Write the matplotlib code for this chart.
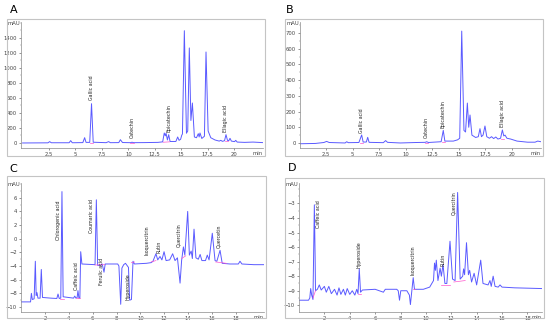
import matplotlib
matplotlib.use("Agg")
import matplotlib.pyplot as plt
from matplotlib.patches import Rectangle
from matplotlib.ticker import AutoMinorLocator

# ==========================================
# Chromatogram data (time in min, signal in mAU)
# ==========================================

a_time = [0.0, 2.4, 2.56, 2.72, 4.4, 4.55, 4.7, 5.7, 5.87, 6.0, 6.35, 6.52, 6.68,
          7.9, 8.14, 8.3, 9.1, 9.25, 9.45, 10.2, 10.35, 10.5, 11.5, 12.8, 13.25,
          13.4, 13.5, 13.57, 13.7, 13.82, 13.95, 14.5, 14.67, 14.8, 14.95, 15.05,
          15.12, 15.3, 15.5, 15.62, 15.77, 15.92, 16.06, 16.25, 16.45, 16.62, 16.7,
          16.78, 16.95, 17.2, 17.35, 17.55, 17.8, 18.2, 18.6, 18.75, 18.9, 19.1,
          19.24, 19.38, 19.5, 19.62, 19.75, 20.05, 20.16, 20.3, 21.0, 21.8, 22.7]
a_signal = [0, 2, 18, 3, 3, 31, 3, 5, 71, 8, 8, 524, 10,
            4, 18, 4, 5, 44, 6, 4, 10, 4, 5, 8, 15,
            133, 95, 130, 40, 111, 20, 20, 80, 35, 50, 102,
            120, 1497, 130, 160, 1267, 300, 533, 80, 70, 124, 80,
            133, 60, 90, 1213, 160, 70, 40, 25, 35, 22, 30,
            111, 35, 30, 62, 25, 18, 35, 12, 8, 12, 5]

b_time = [0.0, 1.5, 2.3, 2.56, 2.8, 4.3, 4.45, 4.6, 5.6, 5.86, 6.0, 6.3, 6.43,
          6.56, 7.9, 8.12, 8.3, 9.5, 11.0, 11.85, 11.99, 12.15, 13.35, 13.55,
          13.7, 14.5, 14.9, 15.1, 15.29, 15.5, 15.65, 15.82, 15.95, 16.07, 16.25,
          16.6, 16.85, 17.01, 17.15, 17.3, 17.48, 17.65, 17.9, 18.1, 18.3, 18.5,
          18.7, 18.95, 19.12, 19.25, 19.37, 19.55, 19.9, 20.5, 21.5, 22.2, 22.45, 22.75]
b_signal = [-5, -3, 3, 10, 3, 0, 8, 2, 3, 51, 6, 6, 36,
            4, 2, 15, 4, 0, 3, 4, 8, 3, 8, 80,
            12, 12, 20, 30, 712, 80, 70, 254, 100, 178, 50,
            35, 40, 91, 40, 50, 108, 40, 30, 40, 28, 38,
            25, 30, 83, 45, 50, 30, 25, 12, 5, 5, 12, 8]

c_time = [0.0, 0.8, 0.87, 0.95, 1.1, 1.2, 1.27, 1.34, 1.42, 1.6, 1.7, 1.8, 2.5,
          3.0, 3.1, 3.2, 3.33, 3.43, 3.53, 4.4, 4.5, 4.6, 4.7, 4.77, 4.85, 4.93,
          5.0, 5.1, 6.2, 6.31, 6.42, 6.6, 6.8, 6.95, 7.05, 8.1, 8.2, 8.35, 8.45,
          8.6, 8.75, 9.0, 9.1, 9.25, 9.38, 9.5, 10.5, 10.9, 11.05, 11.3, 11.45,
          11.64, 11.8, 11.98, 12.15, 12.45, 12.7, 12.9, 13.1, 13.32, 13.45, 13.6,
          13.72, 13.96, 14.1, 14.25, 14.35, 14.49, 14.65, 14.85, 15.0, 15.15,
          15.45, 15.6, 15.75, 16.02, 16.25, 16.4, 16.67, 16.85, 17.5, 18.2,
          18.34, 18.5, 19.5, 20.35]
c_signal = [-9.25, -9.25, -8.0, -8.9, -8.8, -3.3, -8.3, -7.9, -8.7, -8.7, -4.5, -8.6, -8.7,
            -8.75, -8.1, -8.75, -8.7, 6.9, -8.5, -8.7, -8.4, -8.7, -8.6, -7.6, -8.7, -8.7,
            -1.9, -3.7, -3.8, 5.7, -3.9, -3.9, -3.7, -4.9, -3.7, -3.7, -4.0, -9.6, -4.3,
            -3.8, -3.6, -4.2, -9.0, -8.9, -3.3, -3.7, -3.6, -3.5, -3.3, -2.2, -3.1,
            -2.6, -3.1, -1.9, -3.2, -3.1, -2.2, -3.2, -2.8, -6.5, -3.2, -1.2,
            -2.4, 4.0, -2.4, -1.8, -2.9, 1.4, -2.8, -3.0, -2.3, -3.2,
            -3.2, -2.4, -3.1, 0.8, -3.2, -3.3, -1.7, -3.6, -3.7, -3.7,
            -3.3, -3.7, -3.8, -3.8]

d_time = [0.0, 0.75, 0.85, 0.92, 1.0, 1.1, 1.15, 1.21, 1.27, 1.3, 1.45, 1.6, 1.75,
          2.0, 2.15, 2.35, 2.55, 2.8, 3.0, 3.15, 3.3, 3.5, 3.65, 3.8, 4.0, 4.2,
          4.4, 4.55, 4.65, 4.75, 4.85, 5.0, 6.0, 6.65, 6.8, 7.7, 7.82, 7.92, 8.02,
          8.5, 8.7, 8.78, 8.88, 9.0, 9.1, 9.8, 10.3, 10.6, 10.68, 10.75, 10.82,
          10.95, 11.12, 11.22, 11.35, 11.5, 11.65, 11.9, 12.1, 12.3, 12.5, 12.7,
          12.9, 12.97, 13.05, 13.2, 13.35, 13.45, 13.6, 13.8, 14.0, 14.32, 14.5,
          14.9, 15.05, 15.15, 15.3, 15.45, 15.7, 15.84, 16.0, 17.0, 19.15]
d_signal = [-9.65, -9.65, -9.5, -8.85, -9.3, -9.6, -6.7, -3.1, -6.7, -9.0, -8.9, -8.6, -8.95,
            -8.7, -9.1, -8.7, -9.2, -8.9, -9.3, -8.8, -9.25, -8.9, -9.3, -8.85, -9.25, -9.0,
            -9.3, -8.9, -9.2, -7.5, -9.1, -8.95, -8.9, -9.1, -8.9, -8.9, -9.0, -9.65, -9.0,
            -9.0, -9.3, -9.95, -9.1, -8.1, -8.9, -8.9, -8.75, -8.3, -7.1, -7.6, -6.9,
            -8.3, -7.45, -8.0, -7.2, -8.5, -8.5, -5.6, -8.2, -8.3, -2.25, -8.2,
            -8.0, -7.5, -7.9, -5.7, -7.9, -7.6, -8.4, -7.8, -8.6, -6.9, -8.5,
            -8.6, -8.3, -8.7, -8.0, -8.7, -8.75, -8.6, -8.75, -8.8, -8.85]

# peak names with (time, bottom of text) positions
a_names = ["Gallic acid", "Catechin", "Epicatechin", "Ellagic acid"]
a_name_t = [6.53, 10.35, 13.85, 19.24]
a_name_y = [573, 70, 147, 147]

b_names = ["Gallic acid", "Catechin", "Epicatechin", "Ellagic acid"]
b_name_t = [5.86, 11.99, 13.55, 19.12]
b_name_y = [64, 32, 95, 102]

c_names = ["Chlorogenic acid", "Caffeic acid", "Coumaric acid", "Ferulic acid",
           "Hyperoside", "Isoquercitrin", "Rutin", "Quercitrin", "Quercetin"]
c_name_t = [3.16, 4.63, 5.9, 6.76, 9.0, 10.52, 11.59, 13.23, 16.58]
c_name_y = [-0.2, -7.55, 0.8, -6.8, -9.0, -2.4, -2.1, -1.2, -1.4]

d_names = ["Caffeic acid", "Hyperoside", "Isoquercitrin", "Rutin", "Quercitrin"]
d_name_t = [1.52, 4.75, 9.01, 11.37, 12.16]
d_name_y = [-4.7, -7.45, -7.9, -7.3, -3.8]

# integration baselines (t0, t1, y0, y1)
a_base = [(6.35, 6.7, 5, 5), (10.2, 10.55, 3, 3), (13.3, 13.9, 10, 15), (19.1, 19.4, 25, 25)]
b_base = [(5.7, 6.0, 3, 3), (11.85, 12.15, 2, 2), (13.4, 13.75, 5, 5), (19.0, 19.3, 25, 25)]
c_base = [(3.3, 3.6, -8.8, -8.8), (4.6, 4.9, -8.65, -8.65), (6.2, 7.0, -3.85, -3.8),
          (9.25, 9.5, -3.5, -3.4), (10.9, 11.3, -3.4, -3.2), (13.45, 13.8, -2.9, -2.5),
          (16.3, 17.2, -3.4, -3.6)]
d_base = [(1.1, 1.3, -9.5, -9.0), (4.65, 4.9, -9.2, -9.2), (8.95, 9.15, -8.9, -8.9),
          (11.2, 11.9, -8.6, -8.6), (12.2, 13.1, -8.4, -8.3)]

a_ticks = [2.5, 5, 7.5, 10, 12.5, 15, 17.5, 20]
a_ticklabels = ["2,5", "5", "7,5", "10", "12,5", "15", "17,5", "20"]
c_ticks = [2, 4, 6, 8, 10, 12, 14, 16, 18]

# ==========================================
# Figure
# ==========================================

W, H = 550, 325
fig = plt.figure(figsize=(5.5, 3.25), dpi=100)

LINE = "#5a5aff"
PINK = "#ff55cc"


def px_axes(left, top, right, bottom):
    return fig.add_axes([left / W, 1 - bottom / H, (right - left) / W, (bottom - top) / H])


def frame(left, top, right, bottom):
    fig.add_artist(Rectangle((left / W, 1 - bottom / H), (right - left) / W, (bottom - top) / H,
                             transform=fig.transFigure, fill=False, ec="#c4c4c4", lw=0.8))


def draw_panel(ax, t, s, names, nt, ny, base, xlim, ylim, xticks, xlabels, yticks):
    ax.plot(t, s, color=LINE, lw=0.7)
    for t0, t1, y0, y1 in base:
        ax.plot([t0, t1], [y0, y1], color=PINK, lw=0.5)
    for name, x, y in zip(names, nt, ny):
        ax.text(x, y, name, rotation=90, ha="center", va="bottom", fontsize=3.4, color="#222222")
    ax.set_xlim(*xlim)
    ax.set_ylim(*ylim)
    ax.set_xticks(xticks)
    ax.set_xticklabels(xlabels)
    ax.set_yticks(yticks)
    ax.yaxis.set_minor_locator(AutoMinorLocator(2))
    ax.tick_params(labelsize=3.8, length=1.5, width=0.4, pad=1.5, colors="#444444")
    ax.tick_params(which="minor", length=1.0, width=0.3, colors="#777777")
    for side in ["top", "right"]:
        ax.spines[side].set_visible(False)
    for side in ["left", "bottom"]:
        ax.spines[side].set_color("#8a8a8a")
        ax.spines[side].set_linewidth(0.5)
    ax.text(-0.005, 0.985, "mAU", ha="right", va="center", fontsize=3.8,
            color="#444444", transform=ax.transAxes)
    ax.text(1.0, -0.045, "min", ha="right", va="center", fontsize=3.8,
            color="#444444", transform=ax.transAxes)


# panel frames
frame(7, 19, 265, 156)
frame(285, 19, 543, 156)
frame(7, 176, 266, 318)
frame(285, 178, 544, 318)

# panel letters
fig.text(10 / W, 1 - 10 / H, "A", fontsize=8, ha="left", va="center")
fig.text(286 / W, 1 - 10 / H, "B", fontsize=8, ha="left", va="center")
fig.text(9 / W, 1 - 169 / H, "C", fontsize=8, ha="left", va="center")
fig.text(288 / W, 1 - 168 / H, "D", fontsize=8, ha="left", va="center")

ax_a = px_axes(21, 22, 263, 148)
draw_panel(ax_a, a_time, a_signal, a_names, a_name_t, a_name_y, a_base,
           (-0.15, 22.74), (-67, 1613), a_ticks, a_ticklabels, range(0, 1401, 200))

ax_b = px_axes(300, 22, 541, 148)
draw_panel(ax_b, b_time, b_signal, b_names, b_name_t, b_name_y, b_base,
           (0.05, 22.76), (-32, 770), a_ticks, a_ticklabels, range(0, 701, 100))

ax_c = px_axes(21, 183, 264, 312)
draw_panel(ax_c, c_time, c_signal, c_names, c_name_t, c_name_y, c_base,
           (0, 20.35), (-10.73, 8.16), c_ticks, [str(v) for v in c_ticks], range(-10, 7, 2))

ax_d = px_axes(299, 183, 542, 312)
draw_panel(ax_d, d_time, d_signal, d_names, d_name_t, d_name_y, d_base,
           (0, 19.15), (-10.46, -1.6), c_ticks, [str(v) for v in c_ticks], range(-10, -2, 1))

plt.savefig("out.png", dpi=100)
